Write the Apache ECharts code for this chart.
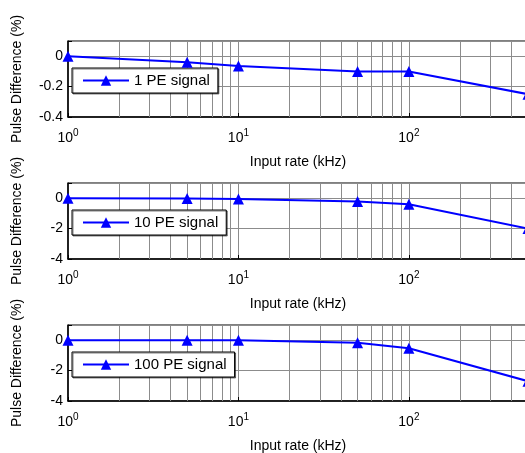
<!DOCTYPE html>
<html>
<head>
<meta charset="utf-8">
<script src="https://cdn.jsdelivr.net/npm/echarts@6/dist/echarts.min.js"></script>
<style>
  html, body { margin: 0; padding: 0; background: #fff; }
  #main { width: 525px; height: 453px; }
</style>
</head>
<body>
<div id="main"></div>
<script>
// input rates (kHz)
var rates = [1, 5, 10, 50, 100, 500];
// pulse difference (%) per signal size
var pe1 = [0, -0.04, -0.065, -0.1, -0.1, -0.25];
var pe10 = [0, -0.02, -0.05, -0.22, -0.4, -2.0];
var pe100 = [0, 0, 0, -0.16, -0.53, -2.7];
var names = ['1 PE signal', '10 PE signal', '100 PE signal'];
// minor log grid positions
var minorX = [2, 3, 4, 5, 6, 7, 8, 9, 20, 30, 40, 50, 60, 70, 80, 90, 200, 300, 400];

var font = 'Liberation Sans, Arial, sans-serif';
var chart = echarts.init(document.getElementById('main'));

var panels = [
  { data: pe1, name: names[0], min: -0.4, max: 0.1, step: 0.2, top: 41, legendW: 149 },
  { data: pe10, name: names[1], min: -4, max: 1, step: 2, top: 183, legendW: 156 },
  { data: pe100, name: names[2], min: -4, max: 1, step: 2, top: 325, legendW: 165 }
];

var grids = [], xAxes = [], yAxes = [], series = [], legends = [];

panels.forEach(function (p, i) {
  grids.push({
    left: 68, top: p.top, width: 460, height: 76,
    outerBoundsMode: 'none', containLabel: false,
    show: true, borderColor: '#000', borderWidth: 1, backgroundColor: '#fff'
  });
  xAxes.push({
    type: 'log', logBase: 10, gridIndex: i, min: 1, max: 500,
    name: 'Input rate (kHz)', nameLocation: 'middle', nameGap: 38,
    nameTextStyle: { fontFamily: font, fontSize: 14, color: '#000' },
    axisLine: { onZero: false, lineStyle: { color: '#000', width: 1.5 } },
    axisTick: { inside: true, length: 4, lineStyle: { color: '#000' } },
    splitLine: { show: true, lineStyle: { color: '#8c8c8c', width: 1 } },
    axisLabel: {
      margin: 11, fontFamily: font, fontSize: 14, color: '#000',
      formatter: function (v) {
        var e = Math.round(Math.log10(v));
        if (Math.abs(Math.pow(10, e) - v) > 1e-6) return '';
        return '10{sup|' + e + '}';
      },
      rich: { sup: { fontSize: 10, fontFamily: font, color: '#000', padding: [0, 0, 10, 0] } }
    }
  });
  yAxes.push({
    type: 'value', gridIndex: i, min: p.min, max: p.max, interval: p.step,
    name: 'Pulse Difference (%)', nameLocation: 'middle', nameGap: 44,
    nameTextStyle: { fontFamily: font, fontSize: 14, color: '#000' },
    axisLine: { onZero: false, lineStyle: { color: '#000', width: 1.5 } },
    axisTick: { inside: true, length: 4, lineStyle: { color: '#000' } },
    splitLine: { show: true, lineStyle: { color: '#8c8c8c', width: 1 } },
    axisLabel: {
      margin: 5, fontFamily: font, fontSize: 14, color: '#000',
      formatter: function (v) {
        if (v > 0) return '';
        return String(Math.round(v * 10) / 10);
      }
    }
  });
  series.push({
    name: p.name, type: 'line', xAxisIndex: i, yAxisIndex: i,
    data: rates.map(function (r, k) { return [r, p.data[k]]; }),
    color: '#0000ff',
    lineStyle: { width: 2, color: '#0000ff' },
    symbol: 'triangle', symbolSize: 11,
    itemStyle: { color: '#0000ff' },
    z: 5,
    markLine: {
      silent: true, symbol: 'none', animation: false,
      label: { show: false },
      lineStyle: { color: '#8c8c8c', width: 1, type: 'solid' },
      data: minorX.map(function (v) { return { xAxis: v }; }),
      z: 1
    }
  });
  legends.push({
    data: [p.name], left: 72, top: p.top + 27, width: p.legendW,
    orient: 'horizontal', backgroundColor: '#fff',
    borderColor: '#000', borderWidth: 1,
    shadowColor: 'rgba(0,0,0,0.5)', shadowOffsetX: 1, shadowOffsetY: 1,
    padding: [5, 8, 5, 10], itemWidth: 46, itemHeight: 13, itemGap: 0,
    textStyle: { fontFamily: font, fontSize: 15, color: '#000' }
  });
});

chart.setOption({
  animation: false,
  grid: grids,
  xAxis: xAxes,
  yAxis: yAxes,
  legend: legends,
  series: series
});
</script>
</body>
</html>
